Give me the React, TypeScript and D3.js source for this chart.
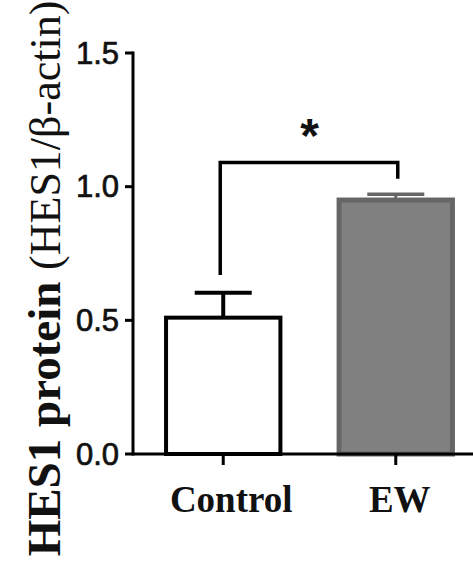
import React from "react";
import * as d3 from "d3";

const categories = ["Control", "EW"];
const means = [0.51, 0.95];
const sems = [0.093, 0.022];
const yTicks = [0, 0.5, 1.0, 1.5];
const yTickLabels = ["0.0", "0.5", "1.0", "1.5"];
const bracketLevel = 1.09;
const bracketEnds = [0.67, 1.03];
const sigLabel = "*";

const W = 473;
const H = 563;

export default function App() {
  const y = d3.scaleLinear().domain([0, 1.5]).range([454, 53]);
  const x = d3
    .scaleBand<string>()
    .domain(categories)
    .range([133, 486])
    .paddingInner(0.314)
    .paddingOuter(0.18);
  const bw = x.bandwidth();
  const cx = (c: string) => (x(c) as number) + bw / 2;
  const axisX = 133;
  const fills = ["#ffffff", "#808080"];
  const strokes = ["#000000", "#666666"];
  const strokeW = [4, 5];
  const capW = 57;

  return (
    <svg
      width={W}
      height={H}
      style={{ position: "absolute", left: 0, top: 0, background: "#fff" }}
    >
      {/* bars */}
      {categories.map((c, i) => {
        const x0 = x(c) as number;
        const sw = strokeW[i];
        return (
          <g key={c}>
            <rect
              x={x0 + sw / 2}
              y={y(means[i])}
              width={bw - sw}
              height={y(0) - y(means[i])}
              fill={fills[i]}
              stroke={strokes[i]}
              strokeWidth={sw}
            />
            <line
              x1={cx(c)}
              x2={cx(c)}
              y1={y(means[i])}
              y2={y(means[i] + sems[i])}
              stroke={strokes[i]}
              strokeWidth={i === 0 ? 4 : 3}
            />
            <line
              x1={cx(c) - capW / 2}
              x2={cx(c) + capW / 2}
              y1={y(means[i] + sems[i])}
              y2={y(means[i] + sems[i])}
              stroke={strokes[i]}
              strokeWidth={i === 0 ? 4 : 3.5}
            />
          </g>
        );
      })}

      {/* y axis */}
      <line x1={axisX} x2={axisX} y1={y(1.5) - 1.5} y2={y(0) + 1.5} stroke="#000" strokeWidth={3} />
      {yTicks.map((t, i) => (
        <g key={t}>
          <line x1={axisX - 8} x2={axisX} y1={y(t)} y2={y(t)} stroke="#000" strokeWidth={3} />
          <text
            x={119}
            y={y(t)}
            textAnchor="end"
            dominantBaseline="central"
            fontFamily="Liberation Sans, Arial, sans-serif"
            fontSize={31}
            fill="#111"
            stroke="#111"
            strokeWidth={0.7}
          >
            {yTickLabels[i]}
          </text>
        </g>
      ))}

      {/* x axis */}
      <line x1={axisX} x2={W} y1={y(0)} y2={y(0)} stroke="#000" strokeWidth={3} />
      {categories.map((c, i) => (
        <g key={c}>
          <line x1={cx(c)} x2={cx(c)} y1={y(0)} y2={y(0) + 11} stroke="#000" strokeWidth={3} />
          <text
            x={cx(c) + (i === 0 ? 8 : 4)}
            y={512}
            textAnchor="middle"
            fontFamily="Liberation Serif, Times New Roman, serif"
            fontWeight="bold"
            fontSize={37}
            fill="#111"
          >
            {c}
          </text>
        </g>
      ))}

      {/* significance bracket */}
      <path
        d={`M${cx(categories[0]) - 3},${y(bracketEnds[0])}V${y(bracketLevel)}H${cx(categories[1]) + 2}V${y(bracketEnds[1])}`}
        fill="none"
        stroke="#000"
        strokeWidth={3.5}
      />
      <text
        x={(cx(categories[0]) + cx(categories[1])) / 2}
        y={y(bracketLevel) - 11}
        textAnchor="middle"
        fontFamily="Liberation Sans, Arial, sans-serif"
        fontWeight="bold"
        fontSize={48}
        fill="#111"
      >
        {sigLabel}
      </text>

      {/* y axis title */}
      <text
        transform={`translate(60,${H / 2 - 3}) rotate(-90)`}
        textAnchor="middle"
        fontFamily="Liberation Serif, Times New Roman, serif"
        fill="#111"
      >
        <tspan fontWeight="bold" fontSize={47}>HES1 protein </tspan>
        <tspan fontSize={44}>(HES1/β-actin)</tspan>
      </text>
    </svg>
  );
}
